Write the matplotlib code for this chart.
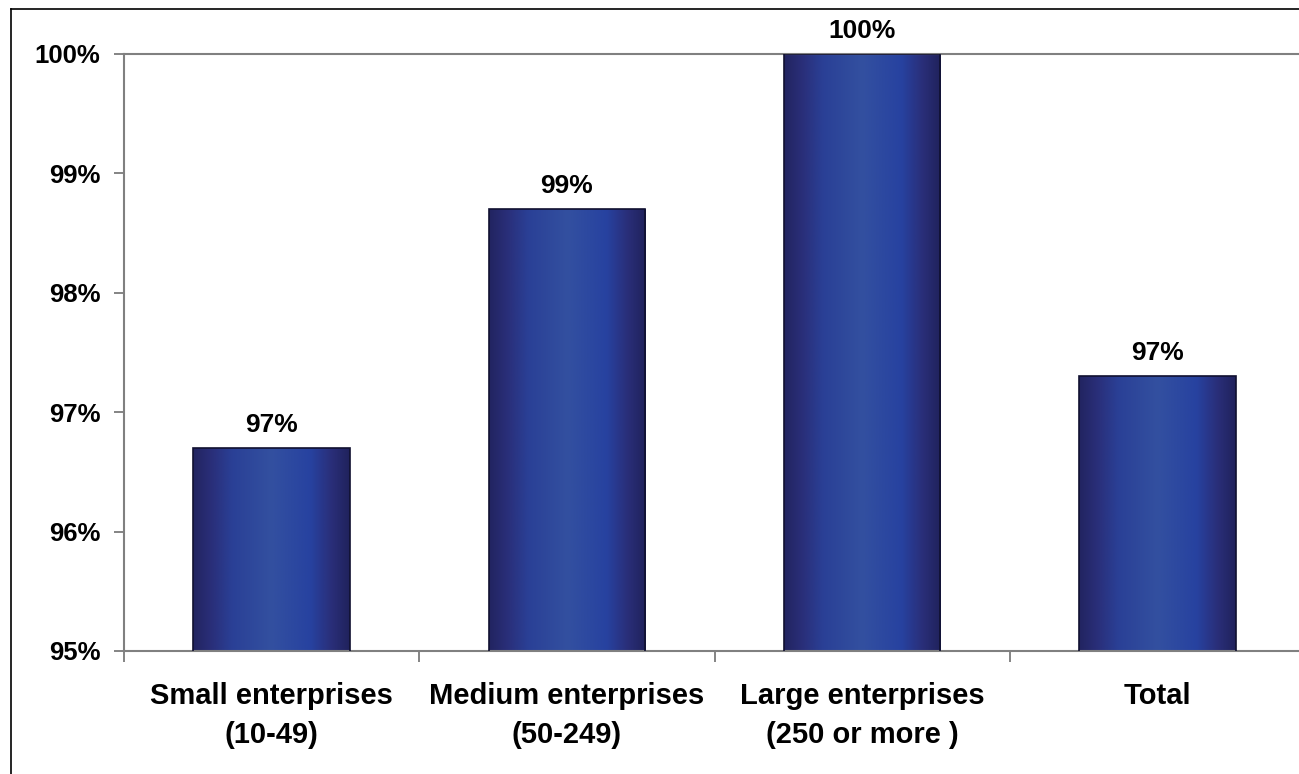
import numpy as np
import matplotlib
matplotlib.use("Agg")
import matplotlib.pyplot as plt
from matplotlib.colors import LinearSegmentedColormap
from matplotlib.lines import Line2D

categories = ["Small enterprises\n(10-49)", "Medium enterprises\n(50-249)",
              "Large enterprises\n(250 or more )", "Total"]
values = [96.7, 98.7, 100.0, 97.3]
yticks = [95, 96, 97, 98, 99, 100]
ytick_labels = ["95%", "96%", "97%", "98%", "99%", "100%"]

plt.rcParams['font.family'] = ['Liberation Sans', 'DejaVu Sans']

fig = plt.figure(figsize=(12.99, 7.74), dpi=100)
ax = fig.add_axes([124/1299, 123/774, 1181/1299, 597/774])

x = np.arange(len(categories))
bars = ax.bar(x, values, width=0.53, bottom=0, color='none',
              edgecolor='#101030', linewidth=1.2, zorder=3)

cmap = LinearSegmentedColormap.from_list("bar", [
    (0.0, "#222460"), (0.12, "#2a2f7a"), (0.25, "#2a4096"),
    (0.5, "#3350a0"), (0.75, "#2742a0"), (0.88, "#2a2f7a"), (1.0, "#20225c")])
grad = np.linspace(0, 1, 256).reshape(1, -1)
for b in bars:
    x0 = b.get_x(); w = b.get_width(); h = b.get_height()
    ax.imshow(grad, cmap=cmap, aspect='auto', extent=[x0, x0 + w, 95, h],
              zorder=2, interpolation='bicubic')

ax.set_xlim(-0.5, len(categories) - 0.5)
ax.set_ylim(95, 100)

for b, v in zip(bars, values):
    ax.annotate(f"{v:.0f}%", (b.get_x() + b.get_width()/2, b.get_height()),
                xytext=(0, 8), textcoords='offset points', ha='center', va='bottom',
                fontsize=19, fontweight='bold', color='black', annotation_clip=False)

ax.set_yticks(yticks)
ax.set_yticklabels(ytick_labels, fontsize=18.5, fontweight='bold')
ax.set_xticks(x)
ax.set_xticklabels(categories, fontsize=21, fontweight='bold', linespacing=1.5)
ax.tick_params(axis='x', length=0, pad=22)
ax.set_xticks(np.arange(-0.5, len(categories), 1), minor=True)
ax.tick_params(axis='x', which='minor', length=8, width=1.2, color='#707070', direction='out')
ax.tick_params(axis='y', length=7, width=1.2, color='#707070', pad=10)

for s in ['left', 'bottom', 'top']:
    ax.spines[s].set_color('#808080')
    ax.spines[s].set_linewidth(1.5)
ax.spines['right'].set_visible(False)

fig.add_artist(Line2D([11/1299, 11/1299], [0, 1 - 9/774], transform=fig.transFigure,
                      color='black', linewidth=1.2))
fig.add_artist(Line2D([11/1299, 1], [1 - 9/774, 1 - 9/774], transform=fig.transFigure,
                      color='black', linewidth=1.2))

fig.savefig("out.png", dpi=100)
